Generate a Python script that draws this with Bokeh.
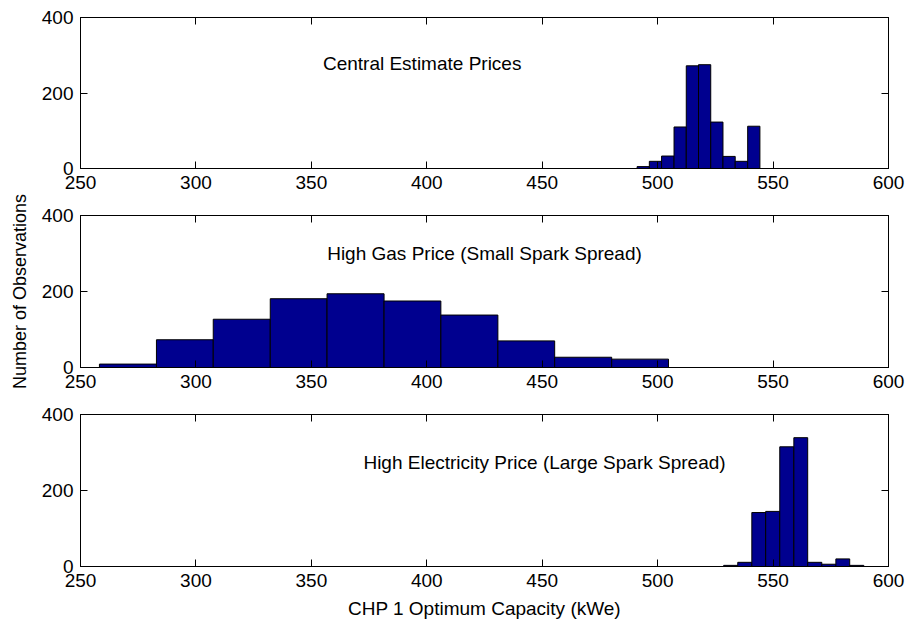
import math
from bokeh.plotting import figure
from bokeh.layouts import column, row
from bokeh.models import Range1d, LinearAxis, FixedTicker, CustomJSTickFormatter
from bokeh.core.properties import value
from bokeh.embed import file_html
from bokeh.resources import INLINE

# Histogram bin edges (kWe) and counts for the three price scenarios
central_edges = [491.1, 496.4, 501.7, 507.1, 512.4, 517.7, 523.0, 528.3, 533.6, 539.0, 544.3]
central_counts = [5, 19, 33, 110, 272, 275, 123, 32, 19, 112]

gas_edges = [258.2, 282.9, 307.5, 332.2, 356.8, 381.5, 406.1, 430.8, 455.4, 480.1, 504.7]
gas_counts = [9, 73, 127, 181, 194, 175, 138, 70, 27, 22]

elec_edges = [528.6, 534.7, 540.8, 546.8, 552.9, 559.0, 565.0, 571.1, 577.2, 583.2, 589.3]
elec_counts = [3, 11, 142, 145, 315, 339, 11, 6, 20, 3]

titles = ["Central Estimate Prices",
          "High Gas Price (Small Spark Spread)",
          "High Electricity Price (Large Spark Spread)"]
title_x = [398, 425, 451]
title_y = [278, 299, 274]

x_ticks = [250, 300, 350, 400, 450, 500, 550, 600]
y_ticks = [0, 200, 400]

FONT = "Liberation Sans"
FS = "19px"
BAR = "#00008F"
LABEL_W = 30


def style_axis(ax, ticks, show_labels=True):
    ax.ticker = FixedTicker(ticks=ticks)
    ax.major_tick_in = 7
    ax.major_tick_out = 0
    ax.minor_tick_in = 0
    ax.minor_tick_out = 0
    ax.axis_line_color = "black"
    ax.axis_line_width = 1
    ax.major_tick_line_color = "black"
    ax.major_label_text_font = FONT
    ax.major_label_text_color = "black"
    ax.major_label_text_font_size = FS
    if not show_labels:
        ax.formatter = CustomJSTickFormatter(code="return '';")
        ax.major_label_standoff = 0


def panel(edges, counts, title, tx, ty, height, top, bottom):
    p = figure(width=906 - LABEL_W, height=height, output_backend="svg",
               toolbar_location=None,
               x_range=Range1d(250, 600), y_range=Range1d(0, 400),
               x_axis_location=None, y_axis_location=None,
               min_border_left=80 - LABEL_W, min_border_right=18,
               min_border_top=top, min_border_bottom=bottom)
    p.grid.visible = False
    p.outline_line_color = "black"
    p.outline_line_width = 1
    p.background_fill_color = "white"
    p.border_fill_color = "white"

    p.quad(left=edges[:-1], right=edges[1:], bottom=0, top=counts,
           fill_color=BAR, line_color="black", line_width=1)

    p.text(x=[tx], y=[ty], text=[title], text_font=value(FONT),
           text_font_size=FS, text_align="center", text_baseline="middle",
           text_color="black")

    bottom_ax = LinearAxis()
    style_axis(bottom_ax, x_ticks)
    bottom_ax.major_label_standoff = 7
    p.add_layout(bottom_ax, "below")

    left_ax = LinearAxis()
    style_axis(left_ax, y_ticks)
    left_ax.major_label_standoff = 7
    p.add_layout(left_ax, "left")

    top_ax = LinearAxis()
    style_axis(top_ax, x_ticks, show_labels=False)
    p.add_layout(top_ax, "above")

    right_ax = LinearAxis()
    style_axis(right_ax, y_ticks, show_labels=False)
    p.add_layout(right_ax, "right")
    return p, bottom_ax


p1, _ = panel(central_edges, central_counts, titles[0], title_x[0], title_y[0], 199, 17, 31)
p2, _ = panel(gas_edges, gas_counts, titles[1], title_x[1], title_y[1], 200, 16, 32)
p3, p3_bottom = panel(elec_edges, elec_counts, titles[2], title_x[2], title_y[2], 225, 15, 58)

p3_bottom.axis_label = "CHP 1 Optimum Capacity (kWe)"
p3_bottom.axis_label_text_font = FONT
p3_bottom.axis_label_text_font_size = FS
p3_bottom.axis_label_text_font_style = "normal"
p3_bottom.axis_label_text_color = "black"
p3_bottom.axis_label_standoff = 8

# Shared y-axis label, drawn in a narrow strip spanning all three panels
ylab = figure(width=LABEL_W, height=624, output_backend="svg", toolbar_location=None,
              x_range=Range1d(0, LABEL_W), y_range=Range1d(624, 0),
              x_axis_location=None, y_axis_location=None,
              min_border=0, outline_line_color=None)
ylab.grid.visible = False
ylab.text(x=[19], y=[291], text=["Number of Observations"], angle=math.pi / 2,
          text_font=value(FONT), text_font_size="18px", text_align="center",
          text_baseline="middle", text_color="black")

layout = row(ylab, column(p1, p2, p3, spacing=0), spacing=0)

open("out.html", "w").write(file_html(layout, INLINE))
